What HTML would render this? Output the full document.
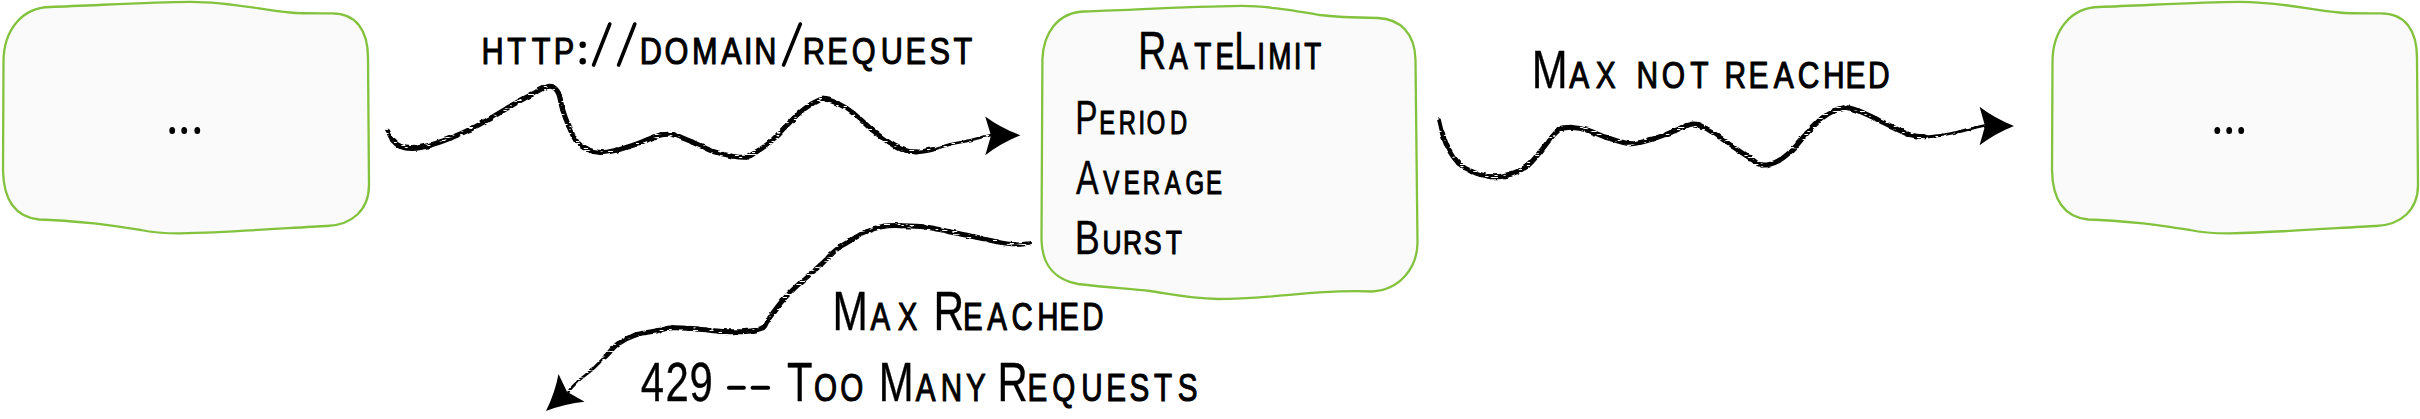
<!DOCTYPE html>
<html><head><meta charset="utf-8">
<style>
html,body{margin:0;padding:0;background:#ffffff;width:2420px;height:419px;overflow:hidden}
svg{display:block}
.tx text{font-family:"Liberation Sans",sans-serif;font-variant:small-caps;fill:#000;stroke:#000;stroke-linejoin:round}
.sl{stroke:#000;stroke-width:3.6;stroke-linecap:round}
.gh{fill:none;stroke:none}
.punc circle{fill:#000}
.box{fill:#fafafa;stroke:#82c23d;stroke-width:2.3;stroke-linejoin:round}
.arr{fill:none;stroke:#000;stroke-linecap:round;stroke-linejoin:round}
.head{fill:#000}
</style></head>
<body>
<svg width="2420" height="419" viewBox="0 0 2420 419">
<defs><path id="sb" d="M 50,7 C 100,5.2 150,2 190,1.8 C 230,1.6 262,10 290,12.5 C 304,13.75 318,13.4 332,13.4 C 356,13.4 368,30 368,58 L 369,185 C 369,210 352,225 327,226 C 300,227 240,232 180.5,233.4 C 160,233.5 150,232 141,230 C 120,227 105,224.5 94,223.3 C 75,221.5 55,220 39,219.5 C 15,217 3.5,200 3,170 L 3.5,62 C 3.5,30 22,7.5 50,7 Z"/>
<filter id="rough" x="0" y="0" width="2420" height="419" filterUnits="userSpaceOnUse">
<feTurbulence type="fractalNoise" baseFrequency="0.12" numOctaves="2" seed="7" result="n"/>
<feDisplacementMap in="SourceGraphic" in2="n" scale="3" xChannelSelector="R" yChannelSelector="G" result="d"/>
<feTurbulence type="turbulence" baseFrequency="0.12 0.7" numOctaves="1" seed="5" result="n2"/>
<feColorMatrix in="n2" type="matrix" values="0 0 0 0 0  0 0 0 0 0  0 0 0 0 0  0 0 0 -12 5" result="m"/>
<feComposite in="d" in2="m" operator="in"/>
</filter>
</defs>
<use href="#sb" class="box"/>
<use href="#sb" class="box" transform="translate(2049,0)"/>
<path class="box" d="M 1085,11.5 C 1130,10 1190,6.5 1240,5.9 C 1265,5.7 1290,10 1320,15 C 1335,17 1355,17.6 1378,18 C 1400,19 1415,33 1415.5,60 L 1417.5,243 C 1417,268 1400,290 1372,291.5 C 1350,290.5 1335,291.5 1315,292.6 C 1290,295 1250,299 1218,299 C 1190,298.5 1170,294 1150,291 C 1130,288.5 1110,288 1078,284 C 1056,280 1042,266 1041.5,240 L 1042.4,60 C 1043,33 1058,12 1085,11.5 Z"/>
<g class="head">
<ellipse cx="172.2" cy="130.4" rx="2.9" ry="3.5"/>
<ellipse cx="184.2" cy="130.4" rx="2.9" ry="3.5"/>
<ellipse cx="197.3" cy="130.4" rx="2.9" ry="3.5"/>
<ellipse cx="2217.3" cy="130.4" rx="2.9" ry="3.5"/>
<ellipse cx="2229.2" cy="130.4" rx="2.9" ry="3.5"/>
<ellipse cx="2241.2" cy="130.4" rx="2.9" ry="3.5"/>
</g>
<g filter="url(#rough)">
<path class="arr" style="stroke-width:3.70" d="M 387.1,130.8 C 388.0,132.3 390.0,137.3 392.2,139.9"/>
<path class="arr" style="stroke-width:5.00" d="M 392.2,139.9 C 394.4,142.5 396.9,145.0 400.3,146.4"/>
<path class="arr" style="stroke-width:5.00" d="M 400.3,146.4 C 403.7,147.8 407.4,148.6 412.5,148.4"/>
<path class="arr" style="stroke-width:5.00" d="M 412.5,148.4 C 417.6,148.2 424.3,146.8 430.7,145.0"/>
<path class="arr" style="stroke-width:5.00" d="M 430.7,145.0 C 437.1,143.2 444.2,140.6 451.0,137.9"/>
<path class="arr" style="stroke-width:5.00" d="M 451.0,137.9 C 457.8,135.2 464.5,132.2 471.3,128.8"/>
<path class="arr" style="stroke-width:5.00" d="M 471.3,128.8 C 478.1,125.4 484.9,121.5 491.6,117.6"/>
<path class="arr" style="stroke-width:5.00" d="M 491.6,117.6 C 498.4,113.7 505.1,109.3 511.8,105.4"/>
<path class="arr" style="stroke-width:5.00" d="M 511.8,105.4 C 518.5,101.5 526.7,97.3 532.1,94.3"/>
<path class="arr" style="stroke-width:5.00" d="M 532.1,94.3 C 537.5,91.3 540.9,88.8 544.3,87.6"/>
<path class="arr" style="stroke-width:5.00" d="M 544.3,87.6 C 547.7,86.3 550.0,85.8 552.4,86.8"/>
<path class="arr" style="stroke-width:5.00" d="M 552.4,86.8 C 554.8,87.8 556.8,89.5 558.5,93.3"/>
<path class="arr" style="stroke-width:5.00" d="M 558.5,93.3 C 560.2,97.1 560.9,104.1 562.6,109.5"/>
<path class="arr" style="stroke-width:5.00" d="M 562.6,109.5 C 564.3,114.9 566.3,120.5 568.6,125.7"/>
<path class="arr" style="stroke-width:5.00" d="M 568.6,125.7 C 570.9,130.9 573.2,137.0 576.2,140.9"/>
<path class="arr" style="stroke-width:5.00" d="M 576.2,140.9 C 579.2,144.8 582.3,147.1 586.4,149.0"/>
<path class="arr" style="stroke-width:5.00" d="M 586.4,149.0 C 590.5,150.9 595.5,152.4 600.6,152.6"/>
<path class="arr" style="stroke-width:5.00" d="M 600.6,152.6 C 605.7,152.8 611.1,151.3 616.8,150.0"/>
<path class="arr" style="stroke-width:5.00" d="M 616.8,150.0 C 622.5,148.7 629.9,146.2 635.0,144.5"/>
<path class="arr" style="stroke-width:5.00" d="M 635.0,144.5 C 640.1,142.8 642.8,141.4 647.2,139.8"/>
<path class="arr" style="stroke-width:5.00" d="M 647.2,139.8 C 651.6,138.2 657.0,135.6 661.4,134.8"/>
<path class="arr" style="stroke-width:5.00" d="M 661.4,134.8 C 665.8,134.0 668.5,133.6 673.6,134.8"/>
<path class="arr" style="stroke-width:5.00" d="M 673.6,134.8 C 678.7,136.0 685.4,139.2 691.8,141.9"/>
<path class="arr" style="stroke-width:5.00" d="M 691.8,141.9 C 698.2,144.6 705.3,148.6 712.1,151.0"/>
<path class="arr" style="stroke-width:5.00" d="M 712.1,151.0 C 718.9,153.4 726.6,155.1 732.4,156.1"/>
<path class="arr" style="stroke-width:5.00" d="M 732.4,156.1 C 738.1,157.1 742.6,157.8 746.6,157.1"/>
<path class="arr" style="stroke-width:5.00" d="M 746.6,157.1 C 750.6,156.4 752.2,154.4 756.2,151.9"/>
<path class="arr" style="stroke-width:5.00" d="M 756.2,151.9 C 760.2,149.4 765.7,145.9 770.4,141.8"/>
<path class="arr" style="stroke-width:5.00" d="M 770.4,141.8 C 775.1,137.8 779.9,132.3 784.6,127.6"/>
<path class="arr" style="stroke-width:5.00" d="M 784.6,127.6 C 789.3,122.9 794.4,117.3 798.8,113.4"/>
<path class="arr" style="stroke-width:5.00" d="M 798.8,113.4 C 803.2,109.5 806.9,106.7 811.0,104.3"/>
<path class="arr" style="stroke-width:5.00" d="M 811.0,104.3 C 815.1,101.9 818.8,99.4 823.2,99.2"/>
<path class="arr" style="stroke-width:5.00" d="M 823.2,99.2 C 827.6,99.0 832.3,100.9 837.4,103.3"/>
<path class="arr" style="stroke-width:5.00" d="M 837.4,103.3 C 842.5,105.7 847.9,109.0 853.6,113.4"/>
<path class="arr" style="stroke-width:5.00" d="M 853.6,113.4 C 859.3,117.8 866.0,124.9 871.8,129.6"/>
<path class="arr" style="stroke-width:5.00" d="M 871.8,129.6 C 877.5,134.3 883.0,138.5 888.1,141.8"/>
<path class="arr" style="stroke-width:5.00" d="M 888.1,141.8 C 893.2,145.1 897.6,147.8 902.3,149.5"/>
<path class="arr" style="stroke-width:5.00" d="M 902.3,149.5 C 907.0,151.2 911.3,151.9 916.5,151.9"/>
<path class="arr" style="stroke-width:4.76" d="M 916.5,151.9 C 921.7,151.9 927.8,150.6 933.4,149.3"/>
<path class="arr" style="stroke-width:2.79" d="M 933.4,149.3 C 939.0,148.0 944.5,145.7 950.1,144.3"/>
<path class="arr" style="stroke-width:2.60" d="M 950.1,144.3 C 955.7,142.9 961.2,142.2 966.8,140.9"/>
<path class="arr" style="stroke-width:2.60" d="M 966.8,140.9 C 972.4,139.7 979.5,137.8 983.5,136.8"/>
<path class="arr" style="stroke-width:2.60" d="M 983.5,136.8 C 987.5,135.8 989.8,135.4 991.0,135.1"/>
<path class="arr" style="stroke-width:3.84" d="M 1439.1,120.3 C 1439.6,122.3 1440.7,127.8 1442.2,132.5"/>
<path class="arr" style="stroke-width:5.00" d="M 1442.2,132.5 C 1443.7,137.2 1445.6,143.6 1448.3,148.7"/>
<path class="arr" style="stroke-width:5.00" d="M 1448.3,148.7 C 1451.0,153.8 1454.7,159.2 1458.4,162.9"/>
<path class="arr" style="stroke-width:5.00" d="M 1458.4,162.9 C 1462.1,166.6 1465.2,168.7 1470.6,171.0"/>
<path class="arr" style="stroke-width:5.00" d="M 1470.6,171.0 C 1476.0,173.3 1484.2,176.2 1490.9,176.7"/>
<path class="arr" style="stroke-width:5.00" d="M 1490.9,176.7 C 1497.7,177.2 1505.0,175.8 1511.1,174.0"/>
<path class="arr" style="stroke-width:5.00" d="M 1511.1,174.0 C 1517.2,172.2 1522.7,169.5 1527.4,165.9"/>
<path class="arr" style="stroke-width:5.00" d="M 1527.4,165.9 C 1532.1,162.3 1535.8,157.1 1539.5,152.7"/>
<path class="arr" style="stroke-width:5.00" d="M 1539.5,152.7 C 1543.2,148.3 1546.3,143.5 1549.7,139.6"/>
<path class="arr" style="stroke-width:5.00" d="M 1549.7,139.6 C 1553.1,135.7 1556.1,131.4 1559.8,129.4"/>
<path class="arr" style="stroke-width:5.00" d="M 1559.8,129.4 C 1563.5,127.4 1567.3,127.2 1572.0,127.4"/>
<path class="arr" style="stroke-width:5.00" d="M 1572.0,127.4 C 1576.7,127.6 1582.5,128.7 1588.2,130.4"/>
<path class="arr" style="stroke-width:5.00" d="M 1588.2,130.4 C 1594.0,132.1 1599.5,135.3 1606.5,137.5"/>
<path class="arr" style="stroke-width:5.00" d="M 1606.5,137.5 C 1613.5,139.7 1622.8,143.3 1630.1,143.7"/>
<path class="arr" style="stroke-width:5.00" d="M 1630.1,143.7 C 1637.4,144.0 1643.6,141.5 1650.4,139.6"/>
<path class="arr" style="stroke-width:5.00" d="M 1650.4,139.6 C 1657.2,137.7 1664.6,134.9 1670.7,132.5"/>
<path class="arr" style="stroke-width:5.00" d="M 1670.7,132.5 C 1676.8,130.1 1682.5,126.8 1686.9,125.4"/>
<path class="arr" style="stroke-width:5.00" d="M 1686.9,125.4 C 1691.3,124.1 1693.0,123.4 1697.1,124.4"/>
<path class="arr" style="stroke-width:5.00" d="M 1697.1,124.4 C 1701.2,125.4 1705.5,128.0 1711.3,131.5"/>
<path class="arr" style="stroke-width:5.00" d="M 1711.3,131.5 C 1717.0,135.1 1725.2,141.3 1731.6,145.7"/>
<path class="arr" style="stroke-width:5.00" d="M 1731.6,145.7 C 1738.0,150.1 1744.7,154.7 1749.8,157.9"/>
<path class="arr" style="stroke-width:5.00" d="M 1749.8,157.9 C 1754.9,161.1 1757.3,164.5 1762.0,165.0"/>
<path class="arr" style="stroke-width:5.00" d="M 1762.0,165.0 C 1766.7,165.5 1773.1,163.4 1778.2,160.9"/>
<path class="arr" style="stroke-width:5.00" d="M 1778.2,160.9 C 1783.3,158.4 1787.7,154.4 1792.4,149.8"/>
<path class="arr" style="stroke-width:5.00" d="M 1792.4,149.8 C 1797.1,145.2 1801.7,138.7 1806.6,133.5"/>
<path class="arr" style="stroke-width:5.00" d="M 1806.6,133.5 C 1811.5,128.3 1817.2,122.2 1821.7,118.4"/>
<path class="arr" style="stroke-width:5.00" d="M 1821.7,118.4 C 1826.2,114.6 1829.5,112.7 1833.4,110.9"/>
<path class="arr" style="stroke-width:5.00" d="M 1833.4,110.9 C 1837.3,109.1 1840.9,107.5 1845.1,107.5"/>
<path class="arr" style="stroke-width:5.00" d="M 1845.1,107.5 C 1849.3,107.5 1853.5,109.1 1858.5,110.9"/>
<path class="arr" style="stroke-width:5.00" d="M 1858.5,110.9 C 1863.5,112.7 1869.6,115.8 1875.2,118.4"/>
<path class="arr" style="stroke-width:5.00" d="M 1875.2,118.4 C 1880.8,121.0 1886.3,124.0 1891.9,126.7"/>
<path class="arr" style="stroke-width:5.00" d="M 1891.9,126.7 C 1897.5,129.3 1903.0,132.6 1908.6,134.3"/>
<path class="arr" style="stroke-width:4.88" d="M 1908.6,134.3 C 1914.2,136.0 1919.7,136.7 1925.3,136.8"/>
<path class="arr" style="stroke-width:2.95" d="M 1925.3,136.8 C 1930.9,136.9 1936.4,135.9 1942.0,135.1"/>
<path class="arr" style="stroke-width:2.60" d="M 1942.0,135.1 C 1947.6,134.3 1953.1,133.1 1958.7,131.8"/>
<path class="arr" style="stroke-width:2.60" d="M 1958.7,131.8 C 1964.3,130.6 1971.1,128.7 1975.4,127.6"/>
<path class="arr" style="stroke-width:2.60" d="M 1975.4,127.6 C 1979.7,126.5 1983.1,125.8 1984.6,125.5"/>
<path class="arr" style="stroke-width:3.53" d="M 1029.3,243.0 C 1026.9,243.2 1020.3,244.4 1014.9,244.2"/>
<path class="arr" style="stroke-width:4.26" d="M 1014.9,244.2 C 1009.5,244.0 1004.0,243.1 997.0,241.8"/>
<path class="arr" style="stroke-width:5.00" d="M 997.0,241.8 C 990.0,240.5 981.2,238.2 973.2,236.5"/>
<path class="arr" style="stroke-width:5.00" d="M 973.2,236.5 C 965.2,234.8 957.2,233.3 949.3,231.7"/>
<path class="arr" style="stroke-width:5.00" d="M 949.3,231.7 C 941.3,230.1 933.5,227.9 925.5,226.9"/>
<path class="arr" style="stroke-width:5.00" d="M 925.5,226.9 C 917.5,225.9 908.6,225.8 901.6,225.7"/>
<path class="arr" style="stroke-width:5.00" d="M 901.6,225.7 C 894.6,225.6 889.7,225.3 883.7,226.3"/>
<path class="arr" style="stroke-width:5.00" d="M 883.7,226.3 C 877.7,227.3 871.2,229.4 865.8,231.7"/>
<path class="arr" style="stroke-width:5.00" d="M 865.8,231.7 C 860.4,234.0 855.9,237.5 851.5,240.1"/>
<path class="arr" style="stroke-width:5.00" d="M 851.5,240.1 C 847.1,242.7 842.9,244.8 839.5,247.2"/>
<path class="arr" style="stroke-width:5.00" d="M 839.5,247.2 C 836.1,249.6 834.4,251.4 831.2,254.4"/>
<path class="arr" style="stroke-width:5.00" d="M 831.2,254.4 C 828.0,257.4 825.6,260.4 820.5,265.1"/>
<path class="arr" style="stroke-width:5.00" d="M 820.5,265.1 C 815.4,269.8 806.7,276.8 800.4,282.6"/>
<path class="arr" style="stroke-width:5.00" d="M 800.4,282.6 C 794.1,288.5 788.3,293.9 782.9,300.2"/>
<path class="arr" style="stroke-width:5.00" d="M 782.9,300.2 C 777.5,306.5 771.1,315.6 767.8,320.2"/>
<path class="arr" style="stroke-width:5.00" d="M 767.8,320.2 C 764.4,324.8 766.5,325.8 762.8,327.7"/>
<path class="arr" style="stroke-width:5.00" d="M 762.8,327.7 C 759.0,329.6 752.0,330.9 745.3,331.5"/>
<path class="arr" style="stroke-width:5.00" d="M 745.3,331.5 C 738.6,332.1 730.7,331.9 722.7,331.5"/>
<path class="arr" style="stroke-width:5.00" d="M 722.7,331.5 C 714.8,331.1 706.0,329.6 697.6,329.0"/>
<path class="arr" style="stroke-width:5.00" d="M 697.6,329.0 C 689.2,328.4 679.4,327.4 672.6,327.7"/>
<path class="arr" style="stroke-width:5.00" d="M 672.6,327.7 C 665.9,328.0 663.2,329.6 657.1,330.8"/>
<path class="arr" style="stroke-width:5.00" d="M 657.1,330.8 C 651.0,332.0 642.8,332.5 636.3,334.7"/>
<path class="arr" style="stroke-width:5.00" d="M 636.3,334.7 C 629.8,336.9 623.3,340.1 618.1,343.8"/>
<path class="arr" style="stroke-width:5.00" d="M 618.1,343.8 C 612.9,347.5 609.5,352.5 605.1,356.8"/>
<path class="arr" style="stroke-width:2.94" d="M 605.1,356.8 C 600.8,361.1 596.4,365.9 592.0,369.8"/>
<path class="arr" style="stroke-width:2.60" d="M 592.0,369.8 C 587.6,373.7 582.9,376.8 579.0,380.3"/>
<path class="arr" style="stroke-width:2.60" d="M 579.0,380.3 C 575.1,383.8 570.3,389.2 568.6,391.0"/>
</g>
<path class="head" d="M 1020.5,135.2 Q 1000.5,127.7 985.2,116.4 L 991.0,135.4 L 985.3,155.2 Q 1000.5,143.2 1020.5,135.2 Z"/>
<path class="head" d="M 2014.0,125.9 Q 1994.4,118.2 1979.6,106.7 L 1985.0,125.9 L 1979.6,145.3 Q 1994.4,133.7 2014.0,125.9 Z"/>
<path class="head" d="M 546.0,411.0 Q 555.2,392.4 558.5,374.0 L 567.0,391.8 L 584.6,401.7 Q 565.6,403.4 546.0,411.0 Z"/>
<g class="tx">
<text font-size="53.14" x="579.51 610.49 640.17 666.62 694.16 716.97 747.13 770.18 799.94 832.91 868.14 895.61 907.98 946.00 966.37 995.81 1025.48 1060.15 1090.19 1118.91 1147.95" y="64.25" transform="scale(0.8307 1)" style="stroke-width:0.329"><tspan style="stroke-width:1.097">http</tspan><tspan class="gh">:</tspan><tspan class="gh">/</tspan><tspan class="gh">/</tspan><tspan style="stroke-width:1.097">domain</tspan><tspan class="gh">/</tspan><tspan style="stroke-width:1.097">request</tspan></text>
<text font-size="52.91" x="1527.09 1568.94 1602.60 1631.02 1656.07 1686.99 1701.74 1736.04 1750.08" y="68.55" transform="scale(0.7452 1)" style="stroke-width:0.348">R<tspan style="stroke-width:1.158">ate</tspan>L<tspan style="stroke-width:1.158">imit</tspan></text>
<text font-size="47.24" x="1517.60 1551.45 1578.81 1606.58 1618.43 1651.23" y="133.65" transform="scale(0.7086 1)" style="stroke-width:0.356">P<tspan style="stroke-width:1.188">eriod</tspan></text>
<text font-size="47.24" x="1494.86 1532.72 1561.18 1587.62 1618.16 1646.95 1675.31" y="193.55" transform="scale(0.7198 1)" style="stroke-width:0.354">A<tspan style="stroke-width:1.179">verage</tspan></text>
<text font-size="47.24" x="1351.02 1385.95 1411.70 1438.16 1465.36" y="253.55" transform="scale(0.7955 1)" style="stroke-width:0.336">B<tspan style="stroke-width:1.121">urst</tspan></text>
<text font-size="54.07" x="1922.26 1969.37 2002.85 2036.97 2053.71 2085.69 2121.35 2151.74 2164.18 2194.46 2226.14 2256.29 2287.96 2316.07 2344.48" y="88.25" transform="scale(0.7968 1)" style="stroke-width:0.336">M<tspan style="stroke-width:1.120">ax not reached</tspan></text>
<text font-size="54.80" x="1075.10 1124.19 1159.22 1193.77 1205.39 1243.60 1274.89 1306.13 1339.42 1367.82 1397.40" y="330.25" transform="scale(0.7744 1)" style="stroke-width:0.341">M<tspan style="stroke-width:1.136">ax </tspan>R<tspan style="stroke-width:1.136">eached</tspan></text>
<text font-size="55.96" x="856.46 889.57 921.68 955.45 975.23 1007.26 1034.86 1052.17 1088.32 1123.35 1160.34 1174.96 1224.24 1257.85 1291.36 1322.65 1333.69 1373.56 1406.79 1445.57 1478.84 1509.90 1542.62 1574.41" y="400.85" transform="scale(0.7480 1)" style="stroke-width:0.347">429 <tspan class="gh">-</tspan><tspan class="gh">-</tspan> T<tspan style="stroke-width:1.156">oo </tspan>M<tspan style="stroke-width:1.156">any </tspan>R<tspan style="stroke-width:1.156">equests</tspan></text>
</g>
<g class="punc"><line class="sl" x1="609.8" y1="24" x2="593.6" y2="65"/><line class="sl" x1="634.8" y1="24" x2="618.6" y2="65"/><line class="sl" x1="800.3" y1="24" x2="783.6" y2="65"/><circle cx="582.7" cy="44.8" r="3.2"/><circle cx="582.7" cy="61.2" r="3.2"/><line class="sl" x1="728.9" y1="387.8" x2="743.9" y2="387.8" style="stroke-width:3.9"/><line class="sl" x1="752.5" y1="387.8" x2="768.2" y2="387.8" style="stroke-width:3.9"/></g>
</svg>
</body></html>
